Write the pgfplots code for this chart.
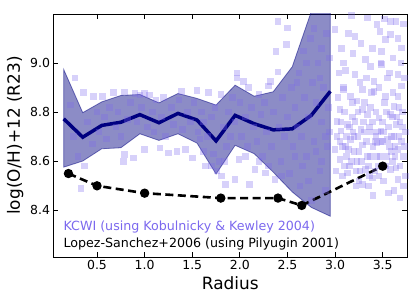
\documentclass[border=0pt]{standalone}
\usepackage{fontspec}
\setmainfont{DejaVu Sans}
\usepackage{pgfplots}
\pgfplotsset{compat=1.18}
\definecolor{msb}{RGB}{123,104,238}
\definecolor{navyc}{RGB}{0,0,128}
\begin{document}
\begin{tikzpicture}
\begin{axis}[
  name=ax,
  scale only axis, width=353.5bp, height=243bp,
  xmin=0.043, xmax=3.755, ymin=8.21, ymax=9.2,
  xtick={0.5,1.0,1.5,2.0,2.5,3.0,3.5},
  xticklabels={0.5,1.0,1.5,2.0,2.5,3.0,3.5},
  ytick={8.4,8.6,8.8,9.0},
  yticklabels={8.4,8.6,8.8,9.0},
  xtick pos=both, ytick pos=both,
  xticklabel pos=lower, yticklabel pos=left,
  tick align=inside,
  major tick length=5bp,
  tick style={black, line width=0.9bp},
  axis line style={line width=0.9bp},
  tick label style={font=\fontsize{12.5}{14}\selectfont},
  xlabel={Radius}, ylabel={log(O/H)+12 (R23)},
  label style={font=\fontsize{17}{20}\selectfont},
]
% band
\addplot[fill=navyc, fill opacity=0.45, draw=navyc, draw opacity=0.5, line width=0.8bp] coordinates {
(0.15,8.974) (0.35,8.798) (0.55,8.842) (0.75,8.868) (0.95,8.872) (1.15,8.838) (1.35,8.876) (1.55,8.856) (1.75,8.829) (1.95,8.91) (2.15,8.865) (2.35,8.883) (2.55,8.985) (2.75,9.21) (2.95,9.6)
(2.95,8.376) (2.75,8.412) (2.55,8.475) (2.35,8.556) (2.15,8.631) (1.95,8.665) (1.75,8.548) (1.55,8.674) (1.35,8.712) (1.15,8.685) (0.95,8.712) (0.75,8.655) (0.55,8.651) (0.35,8.601) (0.15,8.576)
} -- cycle;
% scatter
\addplot[only marks, color=msb, mark=square*, mark size=3.3bp, mark options={color=msb, draw opacity=0, fill=msb, fill opacity=0.3}] coordinates {
(0.22,8.83) (0.25,8.70) (0.30,8.62) (0.33,8.49) (0.37,8.58) (0.27,8.94) (0.36,8.88) (0.40,8.76) (0.45,8.67) (0.46,8.865)
(0.50,8.80) (0.52,8.72) (0.56,8.865) (0.58,8.78) (0.60,8.69) (0.63,8.82) (0.67,8.879) (0.70,8.74) (0.72,8.80) (0.75,8.70)
(0.78,8.60) (0.79,8.627) (0.79,8.883) (0.82,8.77) (0.85,8.84) (0.88,8.613) (0.90,8.876) (0.92,8.76) (0.95,8.87) (0.97,8.82)
(1.00,8.647) (1.00,8.875) (1.03,8.74) (1.05,8.87) (1.08,8.80) (1.10,8.72) (1.12,8.85) (1.16,8.654) (1.18,8.78) (1.20,8.86)
(1.22,8.70) (1.25,8.633) (1.28,8.82) (1.30,8.75) (1.34,8.64) (1.36,8.85) (1.39,8.885) (1.40,8.73) (1.43,8.647) (1.45,8.80)
(1.48,8.76) (1.50,8.613) (1.52,8.84) (1.55,8.888) (1.56,8.72) (1.58,8.69) (1.60,8.80) (1.62,8.76) (1.64,8.58) (1.66,8.70)
(1.67,8.879) (1.70,8.78) (1.72,8.63) (1.74,8.82) (1.78,8.60) (1.80,8.872) (1.81,8.54) (1.83,8.74) (1.85,8.505) (1.86,8.66)
(1.88,8.80) (1.90,8.70) (1.92,8.86) (1.95,8.525) (1.95,8.76) (1.97,8.96) (1.97,8.94) (1.99,8.606) (2.00,8.84) (2.02,8.70)
(2.04,8.926) (2.06,8.78) (2.08,8.66) (2.09,8.90) (2.10,8.505) (2.12,8.82) (2.14,8.74) (2.16,8.566) (2.18,8.68) (2.20,8.872)
(2.22,8.79) (2.24,8.62) (2.26,8.84) (2.27,8.552) (2.28,8.72) (2.30,8.906) (2.32,8.926) (2.33,8.66) (2.35,8.80) (2.37,8.525)
(2.38,9.048) (2.40,8.964) (2.40,9.17) (2.41,8.74) (2.43,8.60) (2.45,8.86) (2.47,8.70) (2.49,9.075) (2.50,9.143) (2.50,8.78)
(2.52,8.55) (2.54,8.90) (2.56,8.66) (2.58,8.82) (2.60,8.74) (2.62,8.96) (2.63,8.50) (2.65,8.70) (2.67,9.05) (2.68,8.86)
(2.70,8.62) (2.72,8.78) (2.74,9.10) (2.75,8.44) (2.76,8.92) (2.78,8.68) (2.80,8.84) (2.82,9.00) (2.84,8.56) (2.86,8.76)
(2.88,8.90) (2.90,8.48) (2.91,9.12) (2.92,8.66) (2.93,8.82) (2.94,8.72)
(1.62,8.64) (1.70,8.58) (1.76,8.56) (1.84,8.60) (2.06,8.62) (2.20,8.60) (2.30,8.58) (2.44,8.54) (2.58,8.62) (2.66,8.58)
(2.72,8.52) (2.80,8.64) (2.86,8.60) (2.90,8.70) (2.60,8.92) (2.70,9.00) (2.78,9.14) (2.86,9.06) (2.84,8.94) (2.94,9.02)
(3.09,9.00) (3.21,9.109) (3.21,8.953) (3.32,9.014) (3.37,8.987) (3.47,9.129) (3.53,9.096) (3.58,9.116) (3.49,9.048) (3.49,8.994)
(3.48,9.00) (3.61,9.021) (3.66,8.953) (3.55,8.94) (3.41,8.926) (3.29,8.892) (3.09,8.90) (3.00,9.136) (3.34,9.184) (3.17,9.195)
(3.44,9.156) (3.64,9.17) (3.58,9.17) (3.70,9.062) (3.70,8.906) (3.09,8.892) (3.16,8.865) (3.05,8.81) (3.29,8.81) (3.41,8.885)
(3.53,8.865) (3.66,8.865) (3.23,8.845) (3.02,8.763) (3.13,8.75) (3.21,8.763) (3.34,8.79) (3.46,8.777) (3.58,8.79) (3.64,8.75)
(3.48,8.723) (3.27,8.73) (3.06,8.723) (3.37,8.818) (3.62,8.824) (3.05,8.681) (3.14,8.647) (3.05,8.606) (3.23,8.60) (3.13,8.552)
(3.29,8.505) (3.39,8.532) (3.37,8.62) (3.44,8.674) (3.55,8.688) (3.66,8.647) (3.58,8.566) (3.66,8.525) (3.64,8.572) (3.48,8.68)
(3.16,8.688) (3.29,8.667) (3.32,8.566) (3.48,8.58) (3.00,8.647)
(3.03,8.86) (3.07,9.06) (3.11,8.97) (3.12,8.70) (3.15,8.58) (3.18,8.78) (3.19,9.04) (3.20,8.64) (3.24,8.70) (3.25,8.52)
(3.26,8.92) (3.28,8.60) (3.30,8.76) (3.31,8.84) (3.33,8.68) (3.35,8.50) (3.36,8.74) (3.38,8.88) (3.40,8.66) (3.42,8.56)
(3.43,8.80) (3.45,8.72) (3.47,8.62) (3.50,8.76) (3.51,8.52) (3.52,8.84) (3.54,8.62) (3.56,8.74) (3.57,8.96) (3.59,8.70)
(3.60,8.60) (3.61,8.88) (3.63,8.66) (3.65,8.78) (3.67,8.70) (3.68,8.58) (3.69,9.00) (3.71,8.80) (3.72,8.62) (3.73,8.94)
(3.74,8.72) (3.72,8.50) (3.10,8.80) (3.08,8.54) (3.04,8.96) (3.22,8.50) (3.14,9.12) (3.27,9.08) (3.39,9.06) (3.52,9.18)
(3.66,9.10) (3.72,9.16) (3.01,8.56) (3.40,8.46) (3.56,8.47) (3.62,8.48) (3.68,8.45) (3.74,8.54) (3.46,8.90) (3.12,8.62)
(3.33,8.94) (3.19,8.72) (3.43,8.70) (3.57,8.66) (3.70,8.68) (3.62,8.70) (3.54,8.80) (3.35,8.58) (3.26,8.56) (3.08,8.66)
(3.18,8.84) (3.44,8.62) (3.50,8.68) (3.60,8.78) (3.67,8.82) (3.71,8.74) (3.15,8.74) (3.24,8.80) (3.38,8.72) (3.46,8.54)
(3.02,8.70) (3.06,8.76) (3.11,8.66) (3.17,8.60) (3.20,8.70) (3.25,8.64) (3.31,8.72) (3.34,8.62) (3.39,8.76) (3.42,8.68)
(3.45,8.58) (3.51,8.72) (3.53,8.58) (3.59,8.64) (3.63,8.62) (3.68,8.76) (3.73,8.66) (3.36,8.54) (3.22,8.56) (3.10,8.58)
};
% mean line
\addplot[navyc, line width=3.5bp] coordinates {
(0.15,8.773) (0.35,8.698) (0.55,8.746) (0.75,8.759) (0.95,8.79) (1.15,8.757) (1.35,8.795) (1.55,8.768) (1.75,8.683) (1.95,8.787) (2.15,8.753) (2.35,8.728) (2.55,8.732) (2.75,8.787) (2.95,8.885)
};
% Lopez-Sanchez
\addplot[black, line width=2.6bp, dash pattern=on 8bp off 4.5bp, mark=*, mark size=3.3bp, mark options={solid}] coordinates {
(0.2,8.55) (0.5,8.50) (1.0,8.47) (1.8,8.45) (2.4,8.45) (2.65,8.42) (3.5,8.58)
};
\node[anchor=base west, text=msb, font=\fontsize{12.7}{14}\selectfont, inner sep=0pt] at (rel axis cs:0.028,0.111) {KCWI (using Kobulnicky \& Kewley 2004)};
\node[anchor=base west, text=black, font=\fontsize{12.7}{14}\selectfont, inner sep=0pt] at (rel axis cs:0.028,0.04) {Lopez-Sanchez+2006 (using Pilyugin 2001)};
\end{axis}
\pgfresetboundingbox
\path ([shift={(-53.5bp,-46bp)}]ax.south west) rectangle ([shift={(8bp,14bp)}]ax.north east);
\end{tikzpicture}
\end{document}
